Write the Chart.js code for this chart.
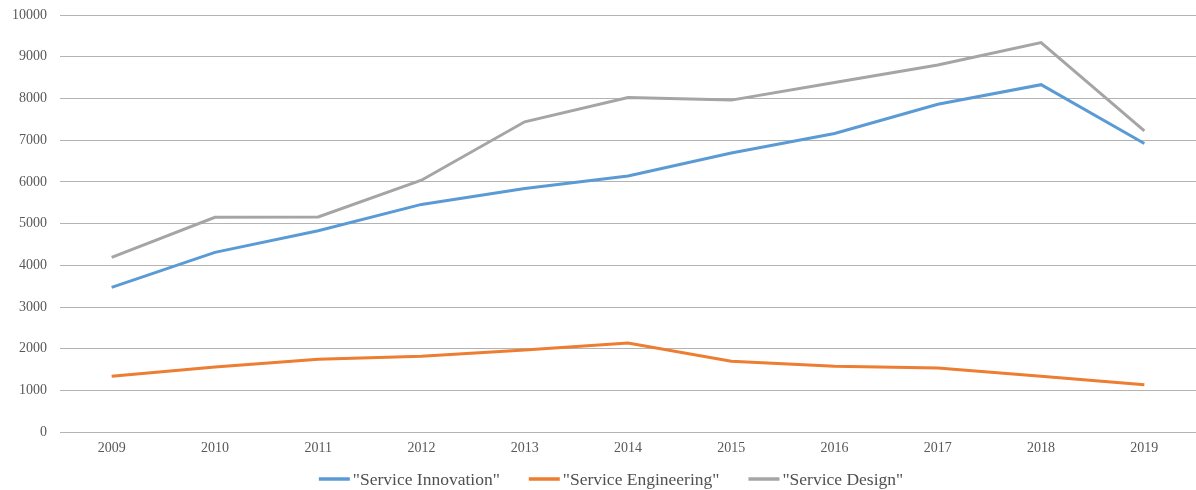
<!DOCTYPE html>
<html>
<head>
<meta charset="utf-8">
<script src="https://cdn.jsdelivr.net/npm/chart.js@4.4.1/dist/chart.umd.min.js"></script>
<style>
html,body{margin:0;padding:0;background:#fff;}
#wrap{width:1196px;height:490px;position:relative;}
</style>
</head>
<body>
<div id="wrap"><canvas id="c"></canvas></div>
<script>
const years = ['2009','2010','2011','2012','2013','2014','2015','2016','2017','2018','2019'];
const serviceInnovation = [3470, 4310, 4830, 5460, 5840, 6140, 6690, 7160, 7860, 8330, 6920];
const serviceEngineering = [1340, 1560, 1750, 1820, 1970, 2140, 1700, 1580, 1540, 1340, 1140];
const serviceDesign = [4190, 5150, 5160, 6040, 7440, 8020, 7960, 8380, 8800, 9340, 7220];
const seriesNames = ['"Service Innovation"', '"Service Engineering"', '"Service Design"'];
const seriesColors = ['#5B9BD5', '#ED7D31', '#A5A5A5'];
const yMin = 0, yMax = 10000, yStep = 1000;

const serif = "'Liberation Serif', 'Times New Roman', serif";
const dataArrays = [serviceInnovation, serviceEngineering, serviceDesign];

const customLegend = {
  id: 'customLegend',
  afterDraw(chart) {
    const ctx = chart.ctx;
    ctx.save();
    ctx.font = "17.5px " + serif;
    const lineW = 31, gapText = 3, gapItem = 29;
    const widths = seriesNames.map(n => ctx.measureText(n).width);
    const total = widths.reduce((a, w) => a + lineW + gapText + w, 0) + gapItem * (seriesNames.length - 1);
    let x = 611 - total / 2;
    const y = 479;
    ctx.textBaseline = 'middle';
    ctx.textAlign = 'left';
    seriesNames.forEach((n, i) => {
      ctx.strokeStyle = seriesColors[i];
      ctx.lineWidth = 3.5;
      ctx.beginPath();
      ctx.moveTo(x, y);
      ctx.lineTo(x + lineW, y);
      ctx.stroke();
      ctx.fillStyle = '#505050';
      ctx.fillText(n, x + lineW + gapText, y + 1);
      x += lineW + gapText + widths[i] + gapItem;
    });
    ctx.restore();
  }
};

new Chart(document.getElementById('c'), {
  type: 'line',
  data: {
    labels: years,
    datasets: dataArrays.map((d, i) => ({
      label: seriesNames[i],
      data: d,
      borderColor: seriesColors[i],
      backgroundColor: seriesColors[i],
      borderWidth: 3,
      pointRadius: 0,
      tension: 0,
      fill: false
    }))
  },
  plugins: [customLegend],
  options: {
    responsive: true,
    maintainAspectRatio: false,
    animation: false,
    layout: { padding: { top: 15, right: 0, bottom: 25, left: 0 } },
    plugins: {
      tooltip: { enabled: false },
      legend: { display: false }
    },
    scales: {
      x: {
        offset: true,
        grid: { display: false, drawTicks: false },
        border: { display: false },
        ticks: { font: { family: serif, size: 14 }, color: '#595959', padding: 8 }
      },
      y: {
        min: yMin, max: yMax,
        afterFit: (s) => { s.width = 60; s.paddingTop = 0; s.paddingBottom = 0; },
        grid: { color: '#b3b3b3', lineWidth: 1, drawTicks: false },
        border: { display: false },
        ticks: { stepSize: yStep, font: { family: serif, size: 14 }, color: '#595959', padding: 13,
          callback: (v) => String(v) }
      }
    }
  }
});
</script>
</body>
</html>
